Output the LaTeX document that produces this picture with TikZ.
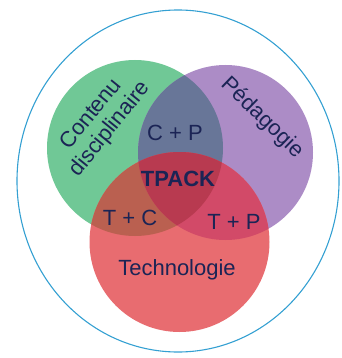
\documentclass[tikz,border=0pt]{standalone}
\usepackage{fontspec}
\setmainfont{Liberation Sans}
\definecolor{cgreen}{RGB}{112,200,150}
\definecolor{cpurple}{RGB}{172,140,198}
\definecolor{cred}{RGB}{232,108,112}
\definecolor{ccp}{RGB}{104,118,152}
\definecolor{ctc}{RGB}{186,96,80}
\definecolor{ctp}{RGB}{210,74,104}
\definecolor{ccenter}{RGB}{184,58,80}
\definecolor{ctext}{RGB}{27,36,85}
\definecolor{cblue}{RGB}{52,160,210}
\tikzset{
  lbl/.style={text=ctext, font=\fontsize{22}{24}\selectfont, inner sep=0pt, align=center},
}
\begin{document}
\begin{tikzpicture}[x=1pt,y=-1pt]
\useasboundingbox (0,0) rectangle (341,358);
\coordinate (G) at (135,148);
\coordinate (P) at (225.5,152.5);
\coordinate (R) at (179.5,242);
\def\rg{88}\def\rp{87.5}\def\rr{90}
\draw[cblue, line width=1.1pt] (178,181) ellipse [x radius=161, y radius=171];
\fill[cgreen] (G) circle (\rg);
\fill[cpurple] (P) circle (\rp);
\fill[cred] (R) circle (\rr);
\begin{scope}
  \clip (G) circle (\rg);
  \fill[ccp] (P) circle (\rp);
  \fill[ctc] (R) circle (\rr);
\end{scope}
\begin{scope}
  \clip (P) circle (\rp);
  \fill[ctp] (R) circle (\rr);
  \clip (G) circle (\rg);
  \fill[ccenter] (R) circle (\rr);
\end{scope}
\node[lbl, rotate=51] (cont) at (101,122) {Contenu\\disciplinaire};
\node[lbl, rotate=-44] (peda) at (262,118) {Pédagogie};
\node[lbl] (cp) at (175,133) {C + P};
\node[lbl, font=\fontsize{22}{24}\selectfont\bfseries] (tpack) at (178,179) {TPACK};
\node[lbl] (tc) at (130,218) {T + C};
\node[lbl] (tp) at (234,222) {T + P};
\node[lbl] (tech) at (177,270) {Technologie};
\end{tikzpicture}
\end{document}
